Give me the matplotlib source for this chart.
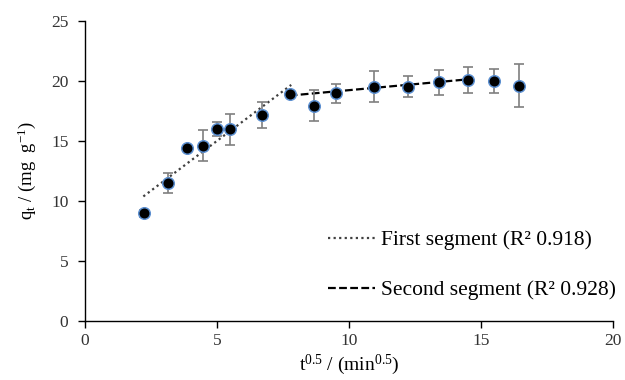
import numpy as np
import matplotlib.pyplot as plt

# datos
t_raiz = [2.24, 3.16, 3.87, 4.47, 5.00, 5.48, 6.71, 7.75, 8.66, 9.49,
          10.95, 12.25, 13.42, 14.49, 15.49, 16.43]
qt = [8.95, 11.45, 14.37, 14.56, 15.95, 15.95, 17.14, 18.87, 17.92, 18.95,
      19.50, 19.50, 19.87, 20.06, 19.97, 19.56]
err_qt = [0.3, 0.85, 0.15, 1.3, 0.6, 1.3, 1.05, 0.2, 1.3, 0.8,
          1.3, 0.85, 1.05, 1.1, 1.0, 1.8]

# tramos lineales (extremos leídos)
seg1_x = [2.21, 7.81]
seg1_y = [10.35, 19.64]
seg2_x = [7.75, 14.49]
seg2_y = [18.75, 20.10]

etiqueta_1 = "First segment (R² 0.918)"
etiqueta_2 = "Second segment (R² 0.928)"

plt.rcParams['font.family'] = ['Liberation Serif', 'DejaVu Serif']
plt.rcParams['mathtext.fontset'] = 'custom'
plt.rcParams['mathtext.rm'] = 'Liberation Serif'
plt.rcParams['mathtext.it'] = 'Liberation Serif:italic'

fig = plt.figure(figsize=(6.25, 3.8), dpi=100)
ax = fig.add_axes([0.136, 0.156, 0.845, 0.79])

ax.plot(seg1_x, seg1_y, linestyle=(0, (1, 1.5)), color="#404040", lw=1.6, label=etiqueta_1)
ax.plot(seg2_x, seg2_y, linestyle=(0, (3.5, 1.5)), color="black", lw=1.6, label=etiqueta_2)

ax.errorbar(t_raiz, qt, yerr=err_qt, fmt="none", ecolor="#7f7f7f", elinewidth=1.2,
            capsize=3.5, capthick=1.2, zorder=2)
ax.plot(t_raiz, qt, "o", color="black", markersize=8.3, markeredgecolor="#5b8fd0",
        markeredgewidth=1.1, zorder=3, linestyle="none")

ax.set_xlim(0, 20)
ax.set_ylim(0, 25)
ax.set_xticks(np.arange(0, 21, 5))
ax.set_yticks(np.arange(0, 26, 5))
for lado in ("top", "right"):
    ax.spines[lado].set_visible(False)
ax.spines["left"].set_linewidth(1.0)
ax.spines["bottom"].set_linewidth(1.0)
ax.tick_params(direction="out", length=5, width=1.0, labelsize=12.5,
               colors="black", labelcolor="#333333")
ax.tick_params(axis="y", pad=7)

ax.set_xlabel(r"t$^{\mathrm{0.5}}$ / (min$^{\mathrm{0.5}}$)", fontsize=14, labelpad=3)
ax.set_ylabel(r"q$_{\mathrm{t}}$ / (mg  g$^{\mathrm{-1}}$)", fontsize=13.5, labelpad=9)

ax.legend(loc="upper left", bbox_to_anchor=(0.46, 0.302), frameon=False,
          fontsize=15.5, handlelength=2.2, handletextpad=0.25, labelspacing=1.4,
          borderaxespad=0, borderpad=0)

fig.savefig("out.png", dpi=100)
